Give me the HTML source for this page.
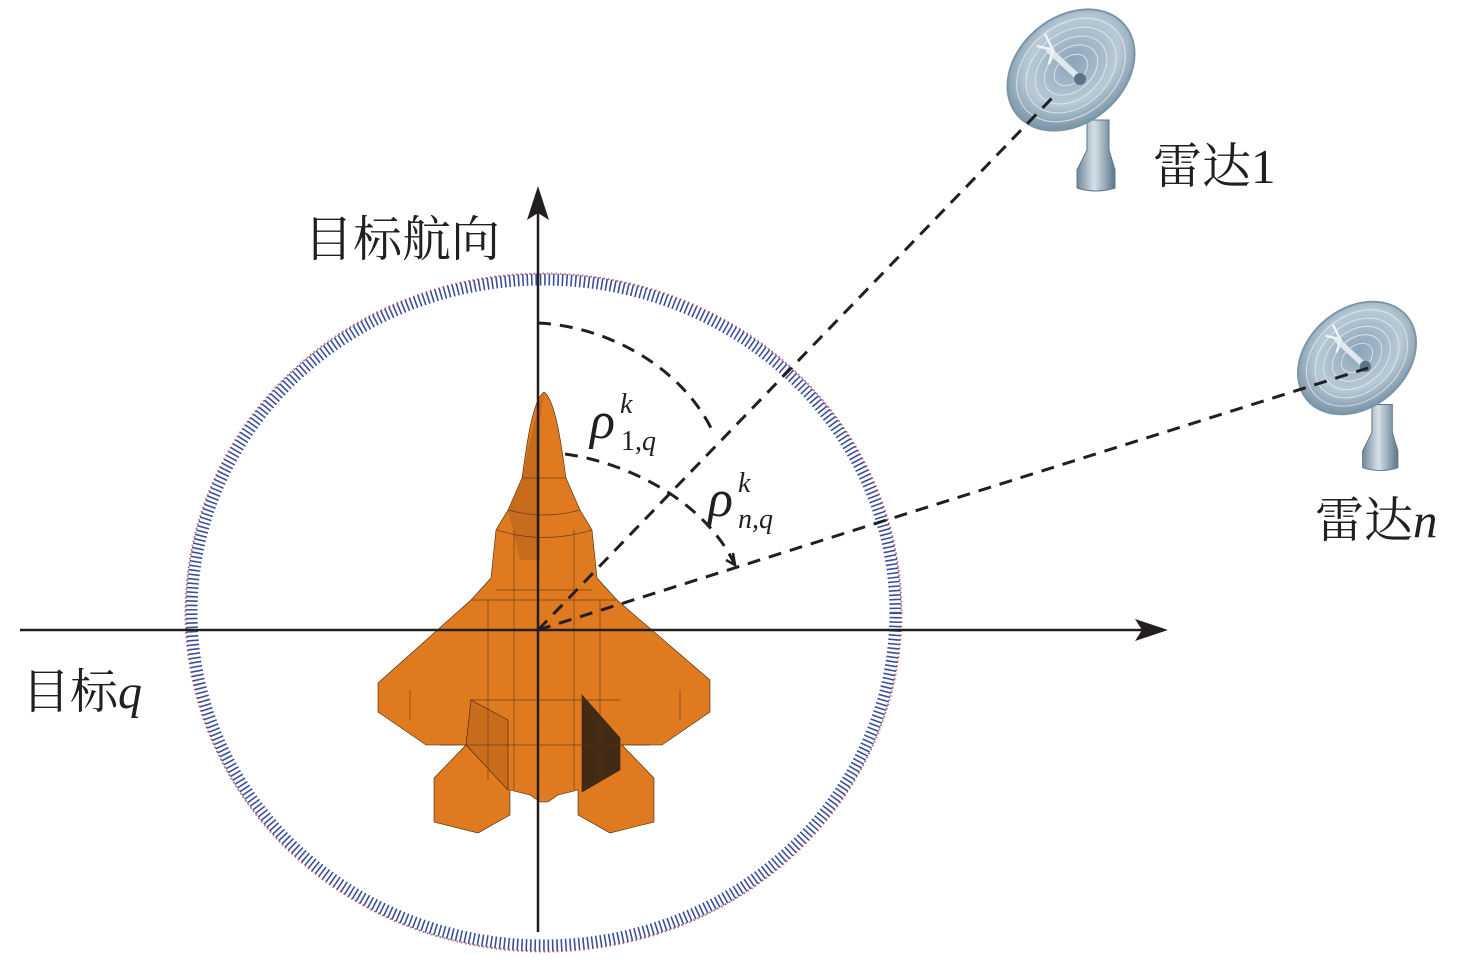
<!DOCTYPE html>
<html><head><meta charset="utf-8"><style>
html,body{margin:0;padding:0;background:#fff;}
svg{display:block;}
text{font-family:"Liberation Serif","Noto Serif CJK SC",serif;fill:#231f20;}
</style></head><body>
<svg width="1476" height="965" viewBox="0 0 1476 965" xmlns="http://www.w3.org/2000/svg">
<defs>
<radialGradient id="dish" cx="0.55" cy="0.45" r="0.6">
<stop offset="0" stop-color="#8aa4b8"/><stop offset="0.6" stop-color="#b9cad6"/><stop offset="1" stop-color="#6f8ba0"/>
</radialGradient>
<linearGradient id="base" x1="0" x2="1" y1="0" y2="0">
<stop offset="0" stop-color="#6f889c"/><stop offset="0.45" stop-color="#d5e0e8"/><stop offset="1" stop-color="#5d7589"/>
</linearGradient>
<g id="radar">
<path d="M16,50 L38,50 L38,80 L44,100 L44,118 Q25,124 6,118 L6,100 L16,80 Z" fill="url(#base)" stroke="#5d7589" stroke-width="1"/>
<ellipse cx="0" cy="0" rx="70" ry="53" transform="rotate(-40)" fill="url(#dish)" stroke="#7b95a8" stroke-width="2"/>
<g fill="none" stroke="#e8eff4" stroke-width="1" opacity="0.8" transform="rotate(-40)">
<ellipse rx="60" ry="45"/><ellipse rx="50" ry="37"/><ellipse rx="40" ry="29"/><ellipse rx="30" ry="21"/><ellipse rx="19" ry="13"/>
</g>
<path d="M-22,-20 L8,8" stroke="#dfe8ee" stroke-width="6" stroke-linecap="round"/>
<circle cx="9" cy="9" r="6" fill="#5d7589"/>
<path d="M-34,-24 L-18,-20 L-26,-36 M-18,-20 L-22,-6" stroke="#eef3f6" stroke-width="2.5" fill="none"/>
</g>
</defs>

<ellipse cx="543.5" cy="612.5" rx="352" ry="333" fill="none" stroke="#3a4f9a" stroke-width="12" stroke-dasharray="1.6 2.8"/>
<ellipse cx="543.5" cy="612.5" rx="358" ry="339" fill="none" stroke="#b0303a" stroke-width="2" stroke-dasharray="1.6 2.8" opacity="0.7"/>

<g stroke="#3a2410" stroke-width="0.6">
<path d="M544,392 C556,400 562,450 566,478 L580,510 L592,530 L597,578 L617,600 L710,680 L710,712 L662,745 L622,745 L654,778 L654,822 L610,833 L578,815 L578,790 L558,795 L548,802 L540,802 L530,795 L510,790 L510,815 L478,833 L434,822 L434,778 L466,745 L426,745 L378,712 L378,683 L471,600 L491,578 L496,530 L508,510 L522,478 C526,450 532,400 544,392 Z" fill="#e07a20"/>
<path d="M544,392 C536,410 528,450 522,478 L508,510 L520,560 L540,560 L540,420 Z" fill="#b5601a" stroke="none" opacity="0.6"/>
<path d="M582,695 L620,738 L620,770 L582,792 Z" fill="#432a14"/>
<path d="M471,700 L466,745 L508,790 L508,720 Z" fill="#c96d1c"/>
<g fill="none" stroke="#5a3410" stroke-width="0.7" opacity="0.8">
<path d="M497,530 Q544,545 592,530 M508,510 Q544,520 580,510 M522,478 L566,478 M496,590 L592,590 M472,600 L616,600 M440,745 L650,745 M470,700 L620,700"/>
<path d="M514,530 L514,790 M574,530 L574,790 M488,600 L488,780 M600,600 L600,780 M410,690 L410,720 M680,690 L680,720"/>
</g>
</g>

<g fill="none" stroke="#231f20" stroke-width="3" stroke-dasharray="13 9">
<path d="M538,323 C605,326 680,365 712,430"/>
<path d="M565,454 C625,462 705,500 735,565"/>
</g>
<path d="M726,560 L735,565 L733,553" fill="none" stroke="#231f20" stroke-width="2.5"/>

<use href="#radar" transform="translate(1071,70) scale(1.0)"/>
<use href="#radar" transform="translate(1357,358) scale(0.93)"/>

<g stroke="#231f20" stroke-width="3" stroke-dasharray="13 9" fill="none">
<path d="M538,630 L1055,95"/>
<path d="M538,630 L1368,368"/>
</g>

<g stroke="#231f20" stroke-width="2.5">
<line x1="20" y1="630" x2="1145" y2="630"/>
<line x1="538" y1="932" x2="538" y2="208"/>
</g>
<path d="M1168,630 L1135,619 L1142,630 L1135,641 Z" fill="#231f20"/>
<path d="M538,186 L527,220 L538,213 L549,220 Z" fill="#231f20"/>

<text x="304" y="256" font-size="49">目标航向</text>
<text x="22" y="708" font-size="48">目标<tspan font-style="italic">q</tspan></text>
<text x="1153" y="183" font-size="49">雷达1</text>
<text x="1315" y="537" font-size="49">雷达<tspan font-style="italic">n</tspan></text>
<text x="590" y="438" font-size="52" font-style="italic">ρ</text>
<text x="620" y="413" font-size="28" font-style="italic">k</text>
<text x="621" y="450" font-size="28">1,<tspan font-style="italic">q</tspan></text>
<text x="708" y="516" font-size="52" font-style="italic">ρ</text>
<text x="738" y="492" font-size="28" font-style="italic">k</text>
<text x="738" y="528" font-size="28" font-style="italic">n,q</text>
</svg>
</body></html>
